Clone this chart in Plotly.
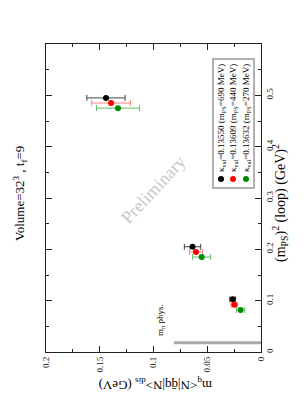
import plotly.graph_objects as go

# data: m_PS^2 (loop) [GeV^2] and m_q<N|qq|N>_dis [GeV] with errors
labels = ["κ<sub>val</sub>=0.13550 (m<sub>PS</sub>=690 MeV)",
          "κ<sub>val</sub>=0.13609 (m<sub>PS</sub>=440 MeV)",
          "κ<sub>val</sub>=0.13632 (m<sub>PS</sub>=270 MeV)"]
mps2_black = [0.495, 0.205, 0.1027]
sig_black = [0.1442, 0.0637, 0.0263]
err_black = [0.0178, 0.0076, 0.0027]
mps2_red = [0.485, 0.195, 0.092]
sig_red = [0.1395, 0.0605, 0.0248]
err_red = [0.018, 0.0060, 0.0030]
mps2_green = [0.475, 0.185, 0.082]
sig_green = [0.133, 0.0552, 0.019]
err_green = [0.020, 0.0084, 0.0039]
phys_x = [0.0, 0.081]
phys_y = [0.0182, 0.0182]

FONT = "Liberation Serif"
fig = go.Figure()

fig.add_trace(go.Scatter(x=phys_x, y=phys_y, mode="lines",
                         line=dict(color="#aaaaaa", width=3), showlegend=False))

series = [
    (sig_black, mps2_black, err_black, "black", "#444444"),
    (sig_red, mps2_red, err_red, "#ff0000", "#ff8080"),
    (sig_green, mps2_green, err_green, "#008b00", "#5cbf5c"),
]
for xs, ys, es, c, ec in series:
    fig.add_trace(go.Scatter(
        x=xs, y=ys, mode="markers",
        marker=dict(color=c, size=6),
        error_x=dict(type="data", array=es, color=ec, thickness=1, width=3),
        showlegend=False))

axis_common = dict(showline=True, linecolor="#222", linewidth=1.2, mirror="ticks",
                   ticks="inside", ticklen=6, tickcolor="#222", showgrid=False,
                   zeroline=False, automargin=False,
                   tickfont=dict(family=FONT, size=9, color="#222"))

fig.update_xaxes(range=[0.2, 0], tickvals=[0, 0.05, 0.1, 0.15, 0.2],
                 ticktext=["0", "0.05", "0.1", "0.15", "0.2"], tickangle=-90,
                 minor=dict(ticks="inside", ticklen=3, dtick=0.025, tickcolor="#222"),
                 **axis_common)
fig.update_yaxes(range=[0, 0.6], side="right", tickvals=[0, 0.1, 0.2, 0.3, 0.4, 0.5],
                 ticktext=["0", "0.1", "0.2", "0.3", "0.4", "0.5"], tickangle=-90,
                 minor=dict(ticks="inside", ticklen=3, dtick=0.05, tickcolor="#222"),
                 **axis_common)

W, H = 308, 399
L, R, T, B = 46, 47, 44, 47
pw, ph = W - L - R, H - T - B


def px(x):
    return (x - L) / pw


def py(y):
    return (H - B - y) / ph


ann = []
ann.append(dict(text="Volume=32<sup>3</sup> , t<sub>f</sub>=9", x=px(20), y=py(194),
                textangle=-90, font=dict(family=FONT, size=13, color="black")))
ann.append(dict(text="(m<sub>PS</sub>)<sup>2</sup> (loop) (GeV)<sup>2</sup>", x=px(280), y=py(203),
                textangle=-90, font=dict(family=FONT, size=14, color="black")))
ann.append(dict(text="m<sub>q</sub>&lt;N|q̄q|N&gt;<sub>dis</sub> (GeV)", x=px(156), y=py(385),
                textangle=180, font=dict(family=FONT, size=13, color="black")))
ann.append(dict(text="m<sub>π</sub> phys.", x=px(160), y=py(320),
                textangle=-90, font=dict(family=FONT, size=9, color="black")))
ann.append(dict(text="Preliminary", x=px(153), y=py(190), textangle=-47,
                font=dict(family=FONT, size=18, color="#c8c8c8")))

legend_x = [221, 233, 246]
colors = ["black", "#ff0000", "#008b00"]
shapes = [dict(type="rect", xref="paper", yref="paper", x0=px(213), x1=px(254),
               y0=py(188), y1=py(59), line=dict(color="#999999", width=1.5))]
for lx, lab, c in zip(legend_x, labels, colors):
    ann.append(dict(text=lab, x=px(lx), y=py(118), textangle=-90,
                    font=dict(family=FONT, size=9, color="black")))
    shapes.append(dict(type="circle", xref="paper", yref="paper",
                       x0=px(lx - 3), x1=px(lx + 3), y0=py(182), y1=py(176),
                       fillcolor=c, line=dict(color=c, width=0)))

for a in ann:
    a.update(xref="paper", yref="paper", showarrow=False, xanchor="center", yanchor="middle")

fig.update_layout(width=W, height=H, margin=dict(l=L, r=R, t=T, b=B),
                  paper_bgcolor="white", plot_bgcolor="white",
                  annotations=ann, shapes=shapes, showlegend=False)

fig.write_html("out.html", config={"displayModeBar": False},
               post_script="document.body.style.margin='0px';document.body.style.overflow='hidden';")
